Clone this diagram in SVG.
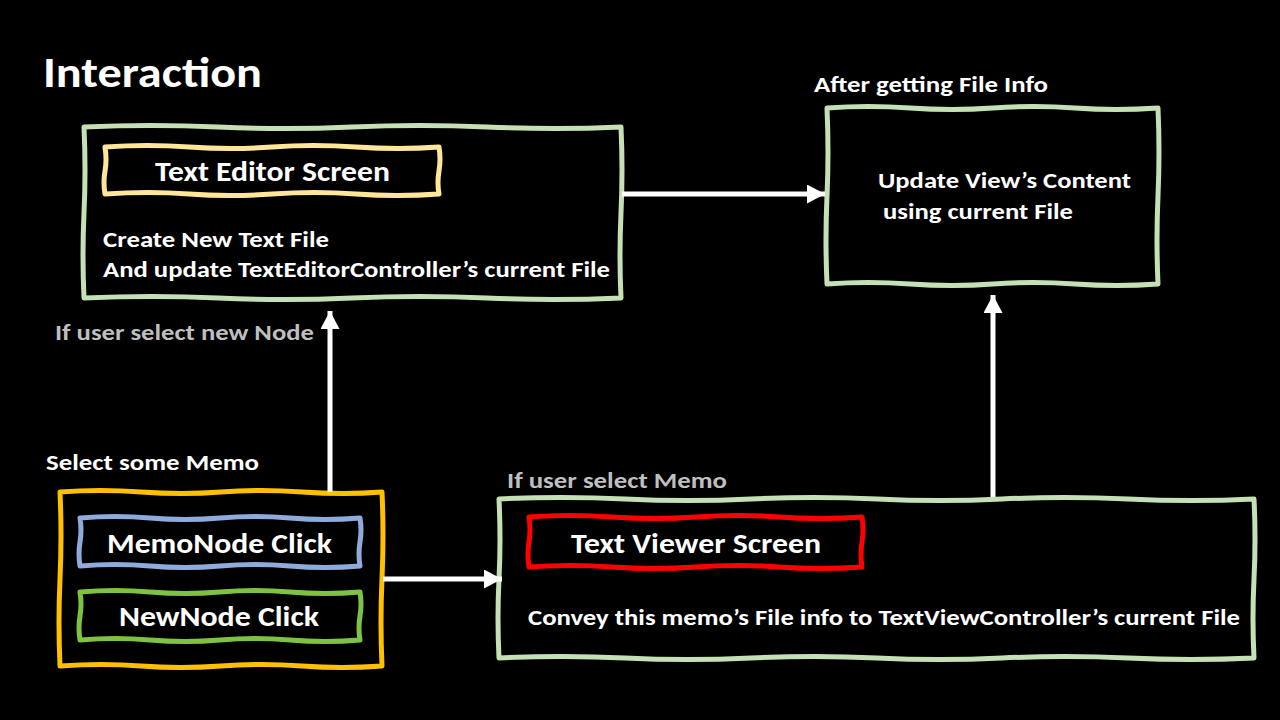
<svg xmlns="http://www.w3.org/2000/svg" width="1280" height="720" viewBox="0 0 1280 720">
<style>
.t{font-family:Calibri,Lato,"Open Sans","Liberation Sans",sans-serif;font-weight:bold;fill:#FFFFFF}
.g{fill:#BFBFBF}
.box{fill:none;stroke-width:5;stroke-linejoin:round}
.sage{stroke:#C5E0B4}
.conn{stroke:#FFFFFF;stroke-width:5;fill:none}
</style>
<defs>
<marker id="ah" markerUnits="userSpaceOnUse" markerWidth="20" markerHeight="20" refX="18" refY="9.5" orient="auto">
<path d="M0,0 L18,9.5 L0,19 Z" fill="#FFFFFF"/>
</marker>
</defs>
<rect width="1280" height="720" fill="#000000"/>
<text class="t" x="43" y="87" font-size="43" textLength="219" lengthAdjust="spacingAndGlyphs">Interaction</text>

<g id="text-editor">
<path class="box sage" d="M84,127 Q151,124 218,127 T352,127 T487,127 T621,127 Q623,170 621,213 T621,298 Q554,301 487,298 T352,298 T218,298 T84,298 Q82,255 84,213 T84,127 Z"/>
<path class="box" stroke="#FFE699" d="M105,147 Q147,144 189,147 T272,147 T356,147 T439,147 Q441,159 439,171 T439,194 Q397,197 356,194 T272,194 T189,194 T105,194 Q103,182 105,171 T105,147 Z"/>
<text class="t" x="155" y="181" font-size="28" textLength="235" lengthAdjust="spacingAndGlyphs">Text Editor Screen</text>
<text class="t" x="103" y="247" font-size="22" textLength="226" lengthAdjust="spacingAndGlyphs">Create New Text File</text>
<text class="t" x="103" y="277" font-size="22" textLength="507" lengthAdjust="spacingAndGlyphs">And update TextEditorController’s current File</text>
</g>

<g id="update-view">
<text class="t" x="814" y="92" font-size="22" textLength="234" lengthAdjust="spacingAndGlyphs">After getting File Info</text>
<path class="box sage" d="M827,108 Q868,105 910,108 T993,108 T1075,108 T1158,108 Q1160,152 1158,196 T1158,284 Q1117,287 1075,284 T993,284 T910,284 T827,284 Q825,240 827,196 T827,108 Z"/>
<text class="t" x="878" y="188" font-size="22" textLength="253" lengthAdjust="spacingAndGlyphs">Update View’s Content</text>
<text class="t" x="883" y="219" font-size="22" textLength="190" lengthAdjust="spacingAndGlyphs">using current File</text>
</g>

<g id="select-memo">
<text class="t" x="46" y="470" font-size="22" textLength="213" lengthAdjust="spacingAndGlyphs">Select some Memo</text>
<path class="box" stroke="#FFC000" d="M60,492 Q100,489 141,492 T221,492 T302,492 T382,492 Q384,536 382,579 T382,666 Q342,669 302,666 T221,666 T141,666 T60,666 Q58,622 60,579 T60,492 Z"/>
</g>

<g id="memonode-click">
<path class="box" stroke="#8FAADC" d="M80,518 Q115,515 150,518 T220,518 T290,518 T360,518 Q362,530 360,542 T360,566 Q325,569 290,566 T220,566 T150,566 T80,566 Q78,554 80,542 T80,518 Z"/>
<text class="t" x="107" y="553" font-size="28" textLength="225" lengthAdjust="spacingAndGlyphs">MemoNode Click</text>
</g>

<g id="newnode-click">
<path class="box" stroke="#7DC243" d="M80,592 Q115,589 150,592 T220,592 T290,592 T360,592 Q362,604 360,616 T360,640 Q325,643 290,640 T220,640 T150,640 T80,640 Q78,628 80,616 T80,592 Z"/>
<text class="t" x="119" y="626" font-size="28" textLength="200" lengthAdjust="spacingAndGlyphs">NewNode Click</text>
</g>

<g id="text-viewer">
<text class="t g" x="507" y="488" font-size="22" textLength="220" lengthAdjust="spacingAndGlyphs">If user select Memo</text>
<path class="box sage" d="M499,499 Q562,496 625,499 T751,499 T877,499 T1002,499 T1128,499 T1254,499 Q1256,539 1254,579 T1254,658 Q1191,661 1128,658 T1002,658 T877,658 T751,658 T625,658 T499,658 Q497,618 499,579 T499,499 Z"/>
<path class="box" stroke="#FF0000" d="M529,517 Q570,514 612,517 T696,517 T779,517 T862,517 Q864,530 862,542 T862,567 Q820,570 779,567 T696,567 T612,567 T529,567 Q527,555 529,542 T529,517 Z"/>
<text class="t" x="571" y="553" font-size="28" textLength="250" lengthAdjust="spacingAndGlyphs">Text Viewer Screen</text>
<text class="t" x="528" y="625" font-size="22" textLength="712" lengthAdjust="spacingAndGlyphs">Convey this memo’s File info to TextViewController’s current File</text>
</g>

<g id="connectors">
<line class="conn" x1="622" y1="194" x2="825" y2="194" marker-end="url(#ah)"/>
<line class="conn" x1="330" y1="492" x2="330" y2="311" marker-end="url(#ah)"/>
<text class="t g" x="55" y="340" font-size="22" textLength="259" lengthAdjust="spacingAndGlyphs">If user select new Node</text>
<line class="conn" x1="383" y1="579" x2="502" y2="579" marker-end="url(#ah)"/>
<line class="conn" x1="993" y1="497" x2="993" y2="295" marker-end="url(#ah)"/>
</g>
</svg>
